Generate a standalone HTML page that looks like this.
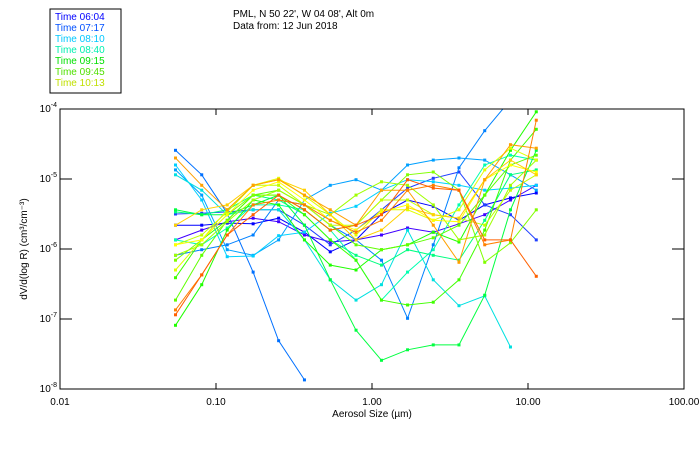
<!DOCTYPE html>
<html><head><meta charset="utf-8"><style>
body{margin:0;background:#fff;width:700px;height:450px;overflow:hidden;font-family:"Liberation Sans",sans-serif}
svg text{font-family:"Liberation Sans",sans-serif;font-size:10px}
</style></head><body>
<svg id="chart" width="700" height="450">
<g>
<rect x="50" y="9" width="71" height="84" fill="#fff" stroke="#000"/>
<text x="55" y="20" fill="#0000ff">Time 06:04</text>
<text x="55" y="31" fill="#0050ff">Time 07:17</text>
<text x="55" y="42" fill="#00c8ff">Time 08:10</text>
<text x="55" y="53" fill="#00f0b0">Time 08:40</text>
<text x="55" y="64" fill="#00e000">Time 09:15</text>
<text x="55" y="75" fill="#50e000">Time 09:45</text>
<text x="55" y="86" fill="#c0e000">Time 10:13</text>
</g>
<text x="233" y="17">PML, N 50 22', W 04 08', Alt 0m</text>
<text x="233" y="29">Data from: 12 Jun 2018</text>
<text transform="translate(27,249) rotate(-90)" text-anchor="middle">dV/d(log R) (cm³/cm⁻³)</text>
<text x="372" y="417" text-anchor="middle">Aerosol Size (µm)</text>
<g id="axes"></g>
<g id="series" clip-path="url(#clip)"></g>
<defs><clipPath id="clip"><rect x="60" y="109" width="624" height="280"/></clipPath></defs>
<rect x="60" y="109" width="624" height="280" fill="none" stroke="#000"/>
</svg>
<script>
const sizes=[0.055,0.081,0.118,0.173,0.252,0.369,0.54,0.79,1.15,1.69,2.47,3.61,5.28,7.72,11.3];
const xTicks=[0.01,0.1,1,10,100];
const xTickLabels=["0.01","0.10","1.00","10.00","100.00"];
const yTickExps=[-4,-5,-6,-7,-8];
const seriesColors=["#4000ff","#0000ff","#2040ff","#0070ff","#0080ff","#00a0ff","#00d0ff","#00e0e0","#00ffb0","#00ff80","#00ff40","#20ff00","#40ff00","#60ff00","#80ff00","#a0ff00","#c0ff00","#e0ff00","#ffff00","#ffd000","#ffa000","#ff8000","#ff6000"];
const logS1=[-5.87,-5.73,-5.61,-5.56,-5.61,-5.8,-5.9,-5.87,-5.8,-5.7,-5.76,-5.64,-5.51,-5.3,-5.09];
const logS2=[-5.66,-5.66,-5.63,-5.64,-5.56,-5.76,-6.04,-5.87,-5.5,-5.3,-5.39,-5.59,-5.37,-5.27,-5.2];
const logS3=[-5.5,-5.49,-5.47,-5.44,-5.44,-5.66,-5.94,-5.73,-5.44,-5.13,-4.99,-4.9,-5.37,-5.51,-5.87];
const logS4=[-4.59,-4.94,-5.49,-6.33,-7.31,-7.87,null,null,null,null,null,null,null,null,null];
const logS5=[-6.09,-6.01,-5.94,-5.8,-5.3,-5.37,-5.66,-5.87,-6.16,-6.99,-5.94,-4.84,-4.31,-3.87,null];
const logS6=[-4.87,-5.23,-6.01,-6.09,-5.87,-5.3,-5.09,-5.01,-5.16,-4.8,-4.73,-4.7,-4.73,-4.94,-5.16];
const logS7=[-4.8,-5.3,-6.11,-6.1,-5.81,-5.76,-5.49,-5.39,-5.16,-5.01,-5.04,-5.09,-5.16,-5.13,-5.09];
const logS8=[-4.94,-5.16,-5.51,-5.44,-5.44,-5.87,-6.44,-6.73,-6.51,-5.73,-6.44,-6.81,-6.67,-7.4,null];
const logS9=[-5.87,-5.94,-5.7,-5.37,-5.37,-5.44,-5.73,-6.16,-6.73,-6.33,-6.01,-5.37,-4.8,-4.66,-4.73];
const logS10=[-5.47,-5.51,-5.44,-5.23,-5.3,-5.51,-5.87,-6.09,-6.23,-6.01,-6.09,-6.16,-5.59,-4.94,-4.87];
const logS11=[-5.44,-5.51,-5.51,-5.37,-5.23,-5.66,-6.44,-7.16,-7.59,-7.44,-7.37,-7.37,-6.66,-5.44,-4.59];
const logS12=[-7.09,-6.51,-5.73,-5.3,-5.37,-5.87,-6.23,-6.3,-6.01,-5.94,-5.76,-5.9,-5.23,-4.59,-4.04];
const logS13=[-6.41,-5.87,-5.59,-5.23,-5.23,-5.51,-5.87,-6.16,-6.73,-6.8,-6.76,-6.44,-5.73,-4.73,-4.29];
const logS14=[-6.73,-6.09,-5.59,-5.23,-5.16,-5.37,-5.66,-5.94,-6.01,-5.94,-5.84,-5.66,-5.23,-4.8,-4.66];
const logS15=[-6.16,-5.87,-5.51,-5.23,-5.23,-5.44,-5.73,-5.66,-5.3,-4.94,-4.9,-5.16,-6.19,-5.91,-5.44];
const logS16=[-6.09,-5.94,-5.61,-5.3,-5.16,-5.37,-5.51,-5.23,-5.04,-5.09,-5.37,-5.87,-5.8,-5.09,-4.73];
const logS17=[-5.94,-5.8,-5.47,-5.09,-5.09,-5.37,-5.66,-5.66,-5.3,-5.3,-5.51,-5.56,-5.66,-5.16,-4.94];
const logS18=[-6.3,-5.87,-5.44,-5.09,-4.99,-5.24,-5.51,-5.8,-5.44,-5.44,-5.59,-5.44,-4.87,-4.56,-4.73];
const logS19=[-5.94,-5.87,-5.51,-5.16,-5.04,-5.3,-5.59,-5.73,-5.47,-5.37,-5.59,-5.61,-5.01,-4.8,-4.9];
const logS20=[-5.66,-5.44,-5.37,-5.09,-5.01,-5.16,-5.51,-5.87,-5.73,-5.41,-5.51,-5.56,-5.01,-4.73,-4.94];
const logS21=[-4.7,-5.09,-5.44,-5.09,-5.01,-5.23,-5.44,-5.66,-5.16,-5.16,-5.66,-6.19,-5.01,-4.51,-4.56];
const logS22=[-6.87,-6.37,-5.8,-5.37,-5.3,-5.37,-5.59,-5.76,-5.59,-5.16,-5.09,-5.16,-5.94,-5.87,-4.16];
const logS23=[-6.94,-6.37,-5.8,-5.51,-5.23,-5.44,-5.73,-5.66,-5.51,-5.01,-5.13,-5.16,-5.87,-5.87,-6.39];
const allSeries=[logS1,logS2,logS3,logS4,logS5,logS6,logS7,logS8,logS9,logS10,logS11,logS12,logS13,logS14,logS15,logS16,logS17,logS18,logS19,logS20,logS21,logS22,logS23];

const NS="http://www.w3.org/2000/svg";
const L=60,R=684,T=109,B=389;
function xScale(v){return L+(Math.log10(v)+2)/4*(R-L);}
function yScale(e){return T+(-4-e)/4*(B-T);}
const axes=document.getElementById('axes');
xTicks.forEach((v,i)=>{
  const x=xScale(v);
  [[B,B-6],[T,T+6]].forEach(p=>{
    const l=document.createElementNS(NS,'line');
    l.setAttribute('x1',x);l.setAttribute('x2',x);l.setAttribute('y1',p[0]);l.setAttribute('y2',p[1]);l.setAttribute('stroke','#000');
    
    
    axes.appendChild(l);
  });
  const t=document.createElementNS(NS,'text');
  t.setAttribute('x',x);t.setAttribute('y',B+16);t.setAttribute('text-anchor','middle');
  t.textContent=xTickLabels[i];
  
  
  axes.appendChild(t);
});
yTickExps.forEach(e=>{
  const y=yScale(e);
  [[L,L+12],[R,R-12]].forEach(p=>{
    const l=document.createElementNS(NS,'line');
    l.setAttribute('x1',p[0]);l.setAttribute('x2',p[1]);l.setAttribute('y1',y);l.setAttribute('y2',y);l.setAttribute('stroke','#000');
    
    
    axes.appendChild(l);
  });
  const t=document.createElementNS(NS,'text');
  t.setAttribute('x',L-3);t.setAttribute('y',y+3);t.setAttribute('text-anchor','end');
  t.innerHTML='10<tspan dy="-5" font-size="7">'+e+'</tspan>';
  
  
  axes.appendChild(t);
});
const sg=document.getElementById('series');
allSeries.forEach((s,si)=>{
  const col=seriesColors[si];
  const g=document.createElementNS(NS,'g');
  
  
  let d='',started=false;
  s.forEach((e,i)=>{
    if(e===null){started=false;return;}
    d+=(started?'L':'M')+xScale(sizes[i]).toFixed(1)+' '+yScale(e).toFixed(1);started=true;
  });
  const p=document.createElementNS(NS,'path');
  p.setAttribute('d',d);p.setAttribute('fill','none');p.setAttribute('stroke',col);p.setAttribute('stroke-width','1');
  
  
  g.appendChild(p);
  s.forEach((e,i)=>{
    if(e===null)return;
    const r=document.createElementNS(NS,'rect');
    r.setAttribute('x',xScale(sizes[i])-1.5);r.setAttribute('y',yScale(e)-1.5);r.setAttribute('width',3);r.setAttribute('height',3);r.setAttribute('fill',col);
    
    
    g.appendChild(r);
  });
  sg.appendChild(g);
});
</script>
</body></html>
